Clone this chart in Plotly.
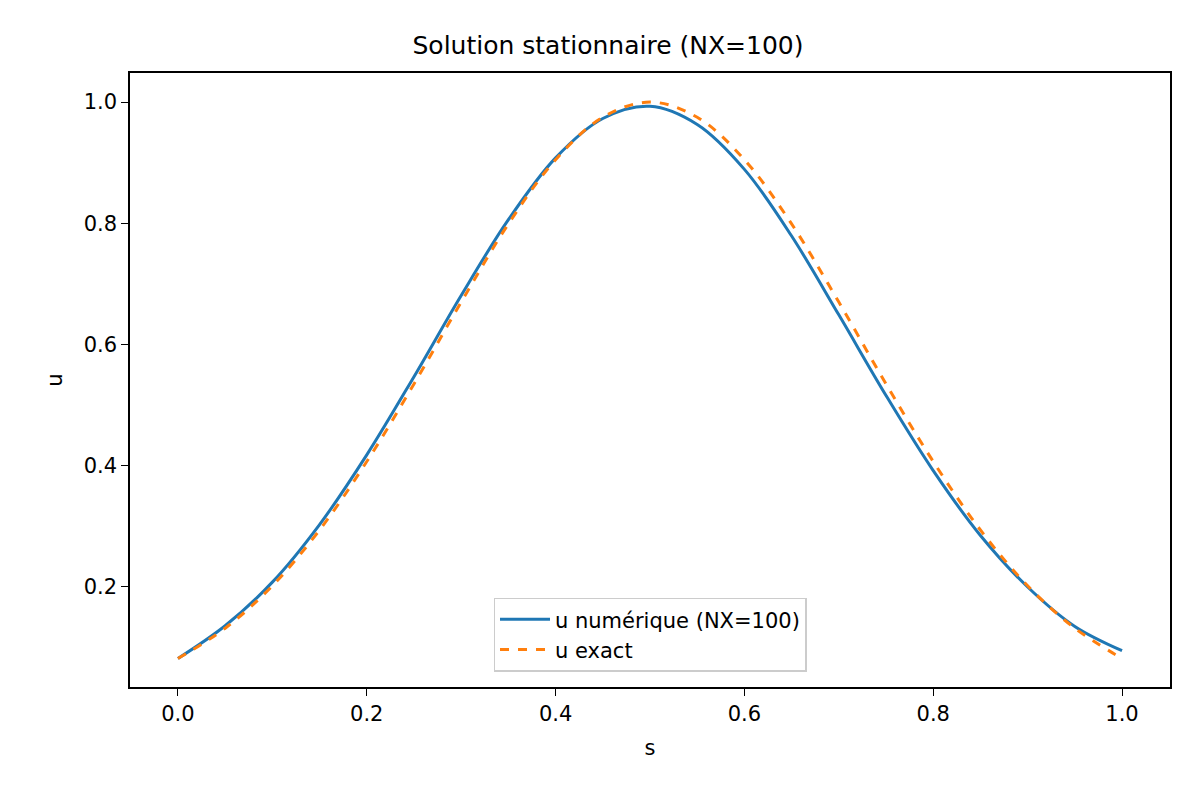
import plotly.graph_objects as go

s = [0.0,0.05,0.1,0.15,0.2,0.25,0.3,0.35,0.4,0.45,0.5,0.55,0.6,0.65,0.7,0.75,0.8,0.85,0.9,0.95,1.0]
u_num = [0.082,0.136,0.208,0.303,0.418,0.547,0.681,0.806,0.908,0.973,0.993,0.963,0.889,0.779,0.649,0.516,0.392,0.285,0.200,0.135,0.095]
u_exact = [0.082,0.132,0.202,0.294,0.407,0.535,0.670,0.799,0.905,0.975,1.0,0.975,0.905,0.799,0.670,0.535,0.407,0.294,0.202,0.132,0.082]

fig = go.Figure()
fig.add_trace(go.Scatter(x=s, y=u_num, mode="lines", name="u numérique (NX=100)",
                         line=dict(color="#1f77b4", width=3, shape="spline")))
fig.add_trace(go.Scatter(x=s, y=u_exact, mode="lines", name="u exact",
                         line=dict(color="#ff7f0e", width=3, dash="dash", shape="spline")))

ax = dict(showgrid=False, zeroline=False, showline=True, linecolor="black", linewidth=1.5,
          mirror=True, ticks="outside", ticklen=7, tickcolor="black",
          tickfont=dict(size=21, color="black"))
fig.update_layout(
    width=1200, height=800, plot_bgcolor="white", paper_bgcolor="white",
    font=dict(family="DejaVu Sans", color="black"),
    margin=dict(l=122, r=38, t=65, b=121),
    title=dict(text="Solution stationnaire (NX=100)", x=0.5, xanchor="center",
               y=1 - 37/800, yanchor="middle", font=dict(size=25)),
    xaxis=dict(ax, range=[-0.0508, 1.0508], tickvals=[0,0.2,0.4,0.6,0.8,1.0],
               ticktext=["0.0","0.2","0.4","0.6","0.8","1.0"],
               title=dict(text="s", font=dict(size=21))),
    yaxis=dict(ax, range=[0.035, 1.048], tickvals=[0.2,0.4,0.6,0.8,1.0],
               ticktext=["0.2","0.4","0.6","0.8","1.0"],
               title=dict(text="u", font=dict(size=21))),
    legend=dict(x=0.5, xanchor="center", y=0.025, yanchor="bottom",
                bordercolor="#cccccc", borderwidth=1.5, bgcolor="white",
                font=dict(size=21), itemwidth=50),
)
fig.write_html("out.html")
